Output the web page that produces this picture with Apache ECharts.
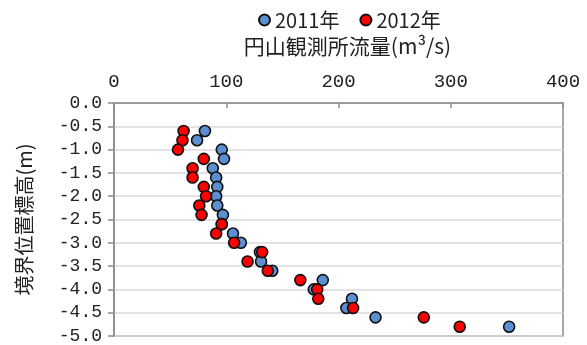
<!DOCTYPE html>
<html>
<head>
<meta charset="utf-8">
<script src="https://cdn.jsdelivr.net/npm/echarts@6/dist/echarts.min.js"></script>
<style>
  html, body { margin: 0; padding: 0; background: #fff; }
  #chart { width: 587px; height: 345px; }
</style>
</head>
<body>
<div id="chart"></div>
<script>
// Boundary elevation (m) for each observation level
const levels = [-0.6, -0.8, -1.0, -1.2, -1.4, -1.6, -1.8, -2.0, -2.2, -2.4, -2.6,
                -2.8, -3.0, -3.2, -3.4, -3.6, -3.8, -4.0, -4.2, -4.4, -4.6, -4.8];
// Discharge at Maruyama station (m3/s) per level
const flow2011 = [81, 74, 96, 98, 88, 91, 92, 91, 92, 97, 96,
                  106, 113, 130, 131, 141, 186, 178, 212, 207, 233, 352];
const flow2012 = [62, 61, 57, 80, 70, 70, 80, 82, 76, 78, 96,
                  91, 107, 132, 119, 137, 166, 181, 182, 213, 276, 308];
const seriesNames = ['2011年', '2012年'];
const xTicks = [0, 100, 200, 300, 400];
const yTicks = [0, -0.5, -1, -1.5, -2, -2.5, -3, -3.5, -4, -4.5, -5];

const pairs = (xs) => xs.map((x, i) => [x, levels[i]]);

const jp = '"Noto Sans CJK JP", "Noto Sans", sans-serif';
const num = '"Liberation Mono", "DejaVu Sans Mono", monospace';
const axisGray = '#8a8a8a';

const chart = echarts.init(document.getElementById('chart'), null, { renderer: 'canvas' });
chart.setOption({
  animation: false,
  backgroundColor: '#ffffff',
  legend: {
    data: seriesNames,
    left: 253,
    top: 5,
    icon: 'circle',
    itemWidth: 11,
    itemHeight: 11,
    itemGap: 20,
    textStyle: { fontFamily: jp, fontSize: 20, color: '#222' }
  },
  grid: {
    left: 114, right: 24, top: 103, bottom: 1,
    show: true, borderColor: axisGray, borderWidth: 1.5, backgroundColor: 'transparent'
  },
  xAxis: {
    type: 'value',
    position: 'top',
    min: xTicks[0], max: xTicks[xTicks.length - 1], interval: 100,
    name: '円山観測所流量(m³/s)',
    nameLocation: 'middle',
    nameGap: 46,
    nameTextStyle: { fontFamily: jp, fontSize: 21, color: '#222', padding: [0, 0, 0, 18] },
    axisLine: { show: true, lineStyle: { color: axisGray, width: 1.5 } },
    axisTick: { show: true, inside: true, length: 5, lineStyle: { color: axisGray, width: 1.5 } },
    axisLabel: { fontFamily: num, fontSize: 19, color: '#222', margin: 12 },
    splitLine: { show: false }
  },
  yAxis: {
    type: 'value',
    min: yTicks[yTicks.length - 1], max: yTicks[0], interval: 0.5,
    name: '境界位置標高(m)',
    nameLocation: 'middle',
    nameRotate: 90,
    nameGap: 80,
    nameTextStyle: { fontFamily: jp, fontSize: 20, color: '#222' },
    axisLine: { show: true, lineStyle: { color: axisGray, width: 1.5 } },
    axisTick: { show: true, inside: false, length: 6, lineStyle: { color: axisGray, width: 1.5 } },
    axisLabel: {
      fontFamily: num, fontSize: 18, color: '#222', margin: 12,
      formatter: (v) => v.toFixed(1)
    },
    splitLine: { show: true, lineStyle: { color: '#d9d9d9', width: 1.5 } }
  },
  series: [
    {
      name: seriesNames[0],
      type: 'scatter',
      data: pairs(flow2011),
      symbol: 'circle',
      symbolSize: 11,
      itemStyle: { color: '#5b8fd2', borderColor: '#111', borderWidth: 1.6, opacity: 1 },
      z: 2
    },
    {
      name: seriesNames[1],
      type: 'scatter',
      data: pairs(flow2012),
      symbol: 'circle',
      symbolSize: 11,
      itemStyle: { color: '#ff0000', borderColor: '#111', borderWidth: 1.6, opacity: 1 },
      z: 3
    }
  ]
});
</script>
</body>
</html>
